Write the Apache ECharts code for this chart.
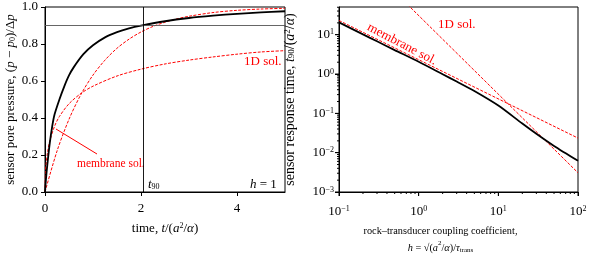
<!DOCTYPE html>
<html><head><meta charset="utf-8">
<script src="https://cdn.jsdelivr.net/npm/echarts@6/dist/echarts.min.js"></script>
<style>html,body{margin:0;padding:0;background:#fff}#c{width:590px;height:255px}</style>
</head><body><div id="c"></div>
<script>
// ---- Left panel data (h = 1) ----
const timeFull = [0, 0.02, 0.05, 0.1, 0.15, 0.2, 0.3, 0.4, 0.5, 0.6, 0.8, 1.0, 1.25, 1.5, 1.75, 2.0, 2.5, 3.0, 3.5, 4.0, 4.5, 5.0];
const pFull    = [0, 0.07, 0.15, 0.265, 0.355, 0.42, 0.50, 0.57, 0.63, 0.675, 0.745, 0.793, 0.836, 0.864, 0.884, 0.899, 0.923, 0.9405, 0.953, 0.963, 0.971, 0.977];
const timeMembrane = [0, 0.25, 0.5, 0.75, 1.0, 1.25, 1.5, 1.75, 2.0, 2.25, 2.5, 2.75, 3.0, 3.5, 4.0, 4.5, 5.0];
const pMembrane    = [0, 0.221, 0.393, 0.528, 0.632, 0.713, 0.777, 0.826, 0.865, 0.895, 0.918, 0.936, 0.950, 0.970, 0.982, 0.989, 0.993];
const time1D = [0, 0.01, 0.02, 0.05, 0.1, 0.2, 0.3, 0.5, 0.75, 1.0, 1.5, 2.0, 2.5, 3.0, 3.5, 4.0, 4.5, 5.0];
const p1D    = [0, 0.104, 0.142, 0.210, 0.276, 0.356, 0.408, 0.477, 0.533, 0.572, 0.627, 0.664, 0.692, 0.713, 0.730, 0.745, 0.757, 0.764];
const pLevel = 0.9;
const t90Level = 2.05;
const leftXTicks = [0, 2, 4];
const leftYTicks = [0, 0.2, 0.4, 0.6, 0.8, 1.0];

// ---- Right panel data ----
const hFull   = [0.1, 0.2, 0.3, 0.5, 1, 2, 3, 5, 10, 20, 30, 50, 100];
const t90Full = [20.6, 10.2, 6.8, 4.07, 2.05, 0.99, 0.645, 0.37, 0.158, 0.055, 0.0302, 0.0148, 0.0062];
const hMembrane   = [0.1, 100];
const t90Membrane = [23.0, 0.0235];
const h1D   = [0.5, 100];
const t90OneD = [123, 0.00308];
const hDecades = [0.1, 1, 10, 100];
const t90Decades = [0.001, 0.01, 0.1, 1, 10];
const hMinor = [0.2,0.3,0.4,0.5,0.6,0.7,0.8,0.9,2,3,4,5,6,7,8,9,20,30,40,50,60,70,80,90];
const t90Minor = [0.002,0.003,0.004,0.005,0.006,0.007,0.008,0.009,0.02,0.03,0.04,0.05,0.06,0.07,0.08,0.09,0.2,0.3,0.4,0.5,0.6,0.7,0.8,0.9,2,3,4,5,6,7,8,9,20,30,40,50];
const t90Top = 50.7;

const FONT = 'Liberation Serif';
const RED = '#ff0000';
const lg = Math.log10;
const pairs = (xs, ys, f) => xs.map((x, i) => f ? [lg(x), lg(ys[i])] : [x, ys[i]]);

function mkRich(fs) {
  const ss = Math.round(fs * 0.65);
  return {
    i: {fontStyle: 'italic', fontFamily: FONT, fontSize: fs, color: '#000'},
    sup: {fontSize: ss, verticalAlign: 'top', fontFamily: FONT, color: '#000'},
    sub: {fontSize: ss, fontFamily: FONT, color: '#000', padding: [4, 0, 0, 0]}
  };
}
const rich = mkRich(13);
const logLabel = v => {
  if (Math.abs(v - Math.round(v)) > 1e-6) return '';
  const n = Math.round(v);
  return '{b|10}{e|' + (n < 0 ? '\u2212' + (-n) : n) + '}';
};
const logRich = {
  b: {fontFamily: FONT, fontSize: 13, color: '#000'},
  e: {fontFamily: FONT, fontSize: 8, color: '#000', verticalAlign: 'top'}
};

const axisCommon = {
  axisLine: {show: true, onZero: false, lineStyle: {color: '#000', width: 1}},
  axisTick: {show: true, inside: false, length: 4, lineStyle: {color: '#000', width: 1}},
  splitLine: {show: false},
  axisLabel: {color: '#000', fontFamily: FONT, fontSize: 13}
};
// tick marks for the log axes: [log value, tick length]
const hTickMarks = hDecades.map(v => [lg(v), 4]).concat(hMinor.map(v => [lg(v), 2]));
const t90TickMarks = t90Decades.map(v => [lg(v), 4]).concat(t90Minor.map(v => [lg(v), 2]));
const xLo = lg(hDecades[0]), yLo = lg(t90Decades[0]);

const tickSeries = (marks, isX) => ({
  type: 'custom', xAxisIndex: 1, yAxisIndex: 1, clip: false, silent: true, z: 5,
  encode: {x: isX ? 0 : 1, y: isX ? 1 : 0},
  data: marks.map(m => isX ? [m[0], yLo, m[1]] : [xLo, m[0], m[1]]),
  renderItem: (params, api) => {
    const p = api.coord([api.value(0), api.value(1)]);
    const len = api.value(2);
    const shape = isX ? {x1: p[0], y1: p[1], x2: p[0], y2: p[1] + len}
                      : {x1: p[0] - len, y1: p[1], x2: p[0], y2: p[1]};
    return {type: 'line', shape: shape, style: {stroke: '#000', lineWidth: 1}};
  }
});

const option = {
  animation: false,
  backgroundColor: '#fff',
  grid: [
    {left: 45, top: 7, width: 240, height: 185, show: true, borderColor: '#000', borderWidth: 1, outerBoundsMode: 'none', containLabel: false},
    {left: 339, top: 7, width: 239, height: 185, show: true, borderColor: '#000', borderWidth: 1, outerBoundsMode: 'none', containLabel: false}
  ],
  xAxis: [
    Object.assign({}, axisCommon, {
      type: 'value', gridIndex: 0, min: 0, max: 5, interval: 2, position: 'bottom',
      axisLabel: Object.assign({}, axisCommon.axisLabel, {margin: 10, showMaxLabel: false,
        formatter: v => leftXTicks.includes(v) ? String(v) : ''}),
      name: 'time, {i|t}/({i|a}{sup|2}/{i|\u03b1})', nameLocation: 'middle', nameGap: 30,
      nameTextStyle: {fontFamily: FONT, fontSize: 13, color: '#000', rich: rich}
    }),
    Object.assign({}, axisCommon, {
      type: 'value', gridIndex: 1, min: xLo, max: lg(hDecades[3]), interval: 1, position: 'bottom',
      axisLabel: Object.assign({}, axisCommon.axisLabel, {margin: 13, formatter: logLabel, rich: logRich}),
      name: 'rock\u2013transducer coupling coefficient,\n{i|h} = \u221a({i|a}{sup|2}/{i|\u03b1})/{i|\u03c4}{sub|trans}',
      nameLocation: 'middle', nameGap: 31,
      nameTextStyle: {fontFamily: FONT, fontSize: 10.3, lineHeight: 17, color: '#000', rich: mkRich(10.3),
        padding: [0, 36, 0, 0]}
    })
  ],
  yAxis: [
    Object.assign({}, axisCommon, {
      type: 'value', gridIndex: 0, min: 0, max: 1, interval: 0.2, position: 'left',
      axisLabel: Object.assign({}, axisCommon.axisLabel, {margin: 7, formatter: v => v.toFixed(1)}),
      name: 'sensor pore pressure, ({i|p} \u2212 {i|p}{sub|0})/\u0394{i|p}', nameLocation: 'middle', nameGap: 28,
      nameTextStyle: {fontFamily: FONT, fontSize: 13, color: '#000', rich: rich}
    }),
    Object.assign({}, axisCommon, {
      type: 'value', gridIndex: 1, min: yLo, max: lg(t90Top), interval: 1, position: 'left',
      axisLabel: Object.assign({}, axisCommon.axisLabel, {margin: 5, formatter: logLabel, rich: logRich, showMaxLabel: false}),
      name: 'sensor response time, {i|t}{sub|90}/({i|a}{sup|2}/{i|\u03b1})', nameLocation: 'middle', nameGap: 42,
      nameTextStyle: {fontFamily: FONT, fontSize: 14, color: '#000', rich: mkRich(14)}
    })
  ],
  series: [
    {type: 'line', xAxisIndex: 0, yAxisIndex: 0, data: pairs(timeMembrane, pMembrane), smooth: 0.3, showSymbol: false,
      lineStyle: {color: RED, width: 1, type: [3, 1.5]}, z: 3},
    {type: 'line', xAxisIndex: 0, yAxisIndex: 0, data: pairs(time1D, p1D), smooth: 0.3, showSymbol: false,
      lineStyle: {color: RED, width: 1, type: [3, 1.5]}, z: 3},
    {type: 'line', xAxisIndex: 0, yAxisIndex: 0, data: pairs(timeFull, pFull), smooth: 0.3, showSymbol: false,
      lineStyle: {color: '#000', width: 1.8}, z: 4,
      markLine: {silent: true, symbol: 'none', label: {show: false},
        lineStyle: {color: '#000', width: 0.9, type: 'solid'},
        data: [{yAxis: pLevel, lineStyle: {color: '#555'}}, {xAxis: t90Level}]}},
    {type: 'line', xAxisIndex: 1, yAxisIndex: 1, data: pairs(hMembrane, t90Membrane, true), showSymbol: false,
      lineStyle: {color: RED, width: 1, type: [3, 1.5]}, z: 3},
    {type: 'line', xAxisIndex: 1, yAxisIndex: 1, data: pairs(h1D, t90OneD, true), showSymbol: false, clip: true,
      lineStyle: {color: RED, width: 1, type: [3, 1.5]}, z: 3},
    {type: 'line', xAxisIndex: 1, yAxisIndex: 1, data: pairs(hFull, t90Full, true), smooth: 0.25, showSymbol: false,
      lineStyle: {color: '#000', width: 1.8}, z: 4},
    tickSeries(hTickMarks, true),
    tickSeries(t90TickMarks, false)
  ],
  graphic: [
    {type: 'text', left: 148, top: 178, style: {text: '{i|t}{sub|90}', rich: rich, font: '13px ' + FONT, fill: '#000'}},
    {type: 'text', left: 250, top: 178, style: {text: '{i|h} = 1', rich: rich, font: '13px ' + FONT, fill: '#000'}},
    {type: 'text', left: 244, top: 55, style: {text: '1D sol.', font: '13px ' + FONT, fill: RED}},
    {type: 'text', left: 77, top: 158, style: {text: 'membrane sol.', font: '11.5px ' + FONT, fill: RED}},
    {type: 'line', shape: {x1: 97, y1: 154, x2: 56, y2: 129}, style: {stroke: RED, lineWidth: 1}},
    {type: 'text', left: 438, top: 18, style: {text: '1D sol.', font: '13px ' + FONT, fill: RED}},
    {type: 'text', x: 399, y: 50, rotation: -0.48, originX: 0, originY: 0,
      style: {text: 'membrane sol.', font: '13px ' + FONT, fill: RED, align: 'center', verticalAlign: 'bottom'}}
  ]
};
const chart = echarts.init(document.getElementById('c'), null, {renderer: 'canvas'});
chart.setOption(option);
</script></body></html>
